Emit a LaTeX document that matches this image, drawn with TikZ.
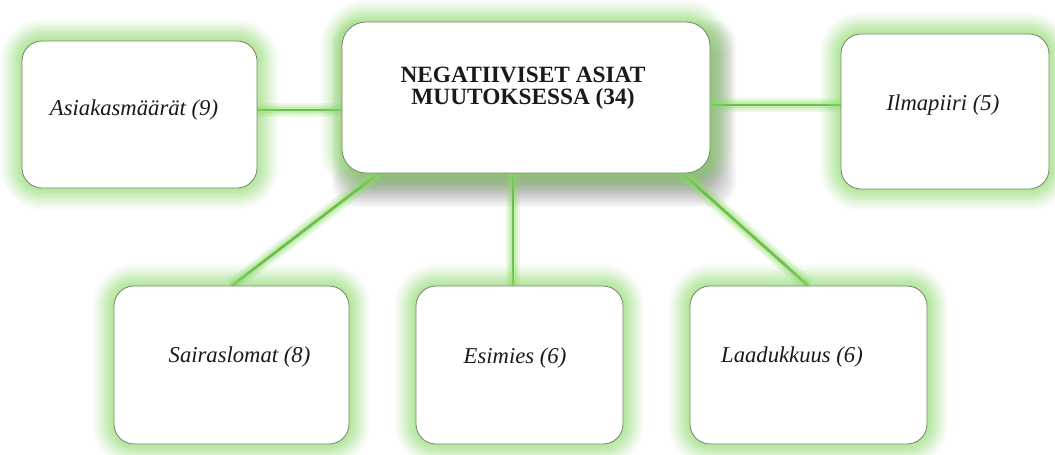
\documentclass[tikz,border=0pt]{standalone}
\usepackage{fontspec}
\setmainfont{Liberation Serif}
\usetikzlibrary{calc}
\pgfdeclarelayer{shade}
\pgfdeclarelayer{links}
\pgfsetlayers{shade,links,main}
\definecolor{glow}{HTML}{8EDC6C}
\definecolor{rim}{HTML}{6E8A60}
\definecolor{linkgreen}{HTML}{6CC04A}
\definecolor{ink}{HTML}{1A1A1A}
\tikzset{
  card/.style={rounded corners=15pt, fill=white, draw=rim, line width=0.6pt,
    inner sep=0pt, outer sep=0pt,
    preaction={draw=glow, line width=32pt, opacity=0.06},
    preaction={draw=glow, line width=28pt, opacity=0.07},
    preaction={draw=glow, line width=24pt, opacity=0.09},
    preaction={draw=glow, line width=20pt, opacity=0.11},
    preaction={draw=glow, line width=16pt, opacity=0.13},
    preaction={draw=glow, line width=12pt, opacity=0.14},
    preaction={draw=glow, line width=8pt, opacity=0.15},
    preaction={draw=glow, line width=4pt, opacity=0.15}},
  leaf/.style={text=ink, font=\fontsize{17pt}{19pt}\selectfont\itshape, inner sep=0pt},
  headline/.style={text=ink, font=\fontsize{17.5pt}{16.8pt}\selectfont\bfseries,
    align=center, inner sep=0pt},
  link/.style={draw=linkgreen, line width=2pt,
    preaction={draw=glow, line width=11pt, opacity=0.16},
    preaction={draw=glow, line width=8pt, opacity=0.2},
    preaction={draw=glow, line width=5pt, opacity=0.28}}
}
\begin{document}
\begin{tikzpicture}[x=0.75pt, y=-0.75pt]
  \useasboundingbox (0,0) rectangle (1055,454);

  % boxes
  \node[card, rounded corners=18pt, minimum width=276pt, minimum height=113.25pt] (C) at (526,97.5) {};
  \node[card, minimum width=176.25pt, minimum height=110.25pt] (A) at (139.5,114.5) {};
  \node[card, minimum width=156pt, minimum height=116.25pt] (I) at (945,111.5) {};
  \node[card, minimum width=176.25pt, minimum height=118.5pt] (S) at (231.5,365) {};
  \node[card, minimum width=155.25pt, minimum height=118.5pt] (E) at (519.5,365) {};
  \node[card, minimum width=177.75pt, minimum height=118.5pt] (L) at (808.5,365) {};

  % labels
  \node[headline] (Ct) at (523,88) {NEGATIIVISET ASIAT\\MUUTOKSESSA (34)};
  \node[leaf] (At) at (134,110) {Asiakasmäärät (9)};
  \node[leaf] (It) at (943,105) {Ilmapiiri (5)};
  \node[leaf] (St) at (239.5,357) {Sairaslomat (8)};
  \node[leaf] (Et) at (515,358) {Esimies (6)};
  \node[leaf] (Lt) at (792,357) {Laadukkuus (6)};

  % page background and soft shadow under the central box
  \begin{pgfonlayer}{shade}
    \fill[white] (0,0) rectangle (1055,454);
    \foreach \r in {-12,-10,...,18} {
      \fill[black, opacity=0.03, rounded corners=18pt]
        ($(C.north west)+(8-\r,16-\r)$) rectangle ($(C.south east)+(8+\r,16+\r)$);
    }
  \end{pgfonlayer}

  % connectors
  \begin{pgfonlayer}{links}
    \draw[link] (At -| A.east) -- (At -| C.west);
    \draw[link] (It -| C.east) -- (It -| I.west);
    \draw[link] ([xshift=-1.5pt]Et |- C.south) -- ([xshift=-1.5pt]Et |- E.north);
    \draw[link] ([xshift=27.75pt]C.south west) -- (S.north);
    \draw[link] ([xshift=-21pt]C.south east) -- (L.north);
  \end{pgfonlayer}
\end{tikzpicture}
\end{document}
